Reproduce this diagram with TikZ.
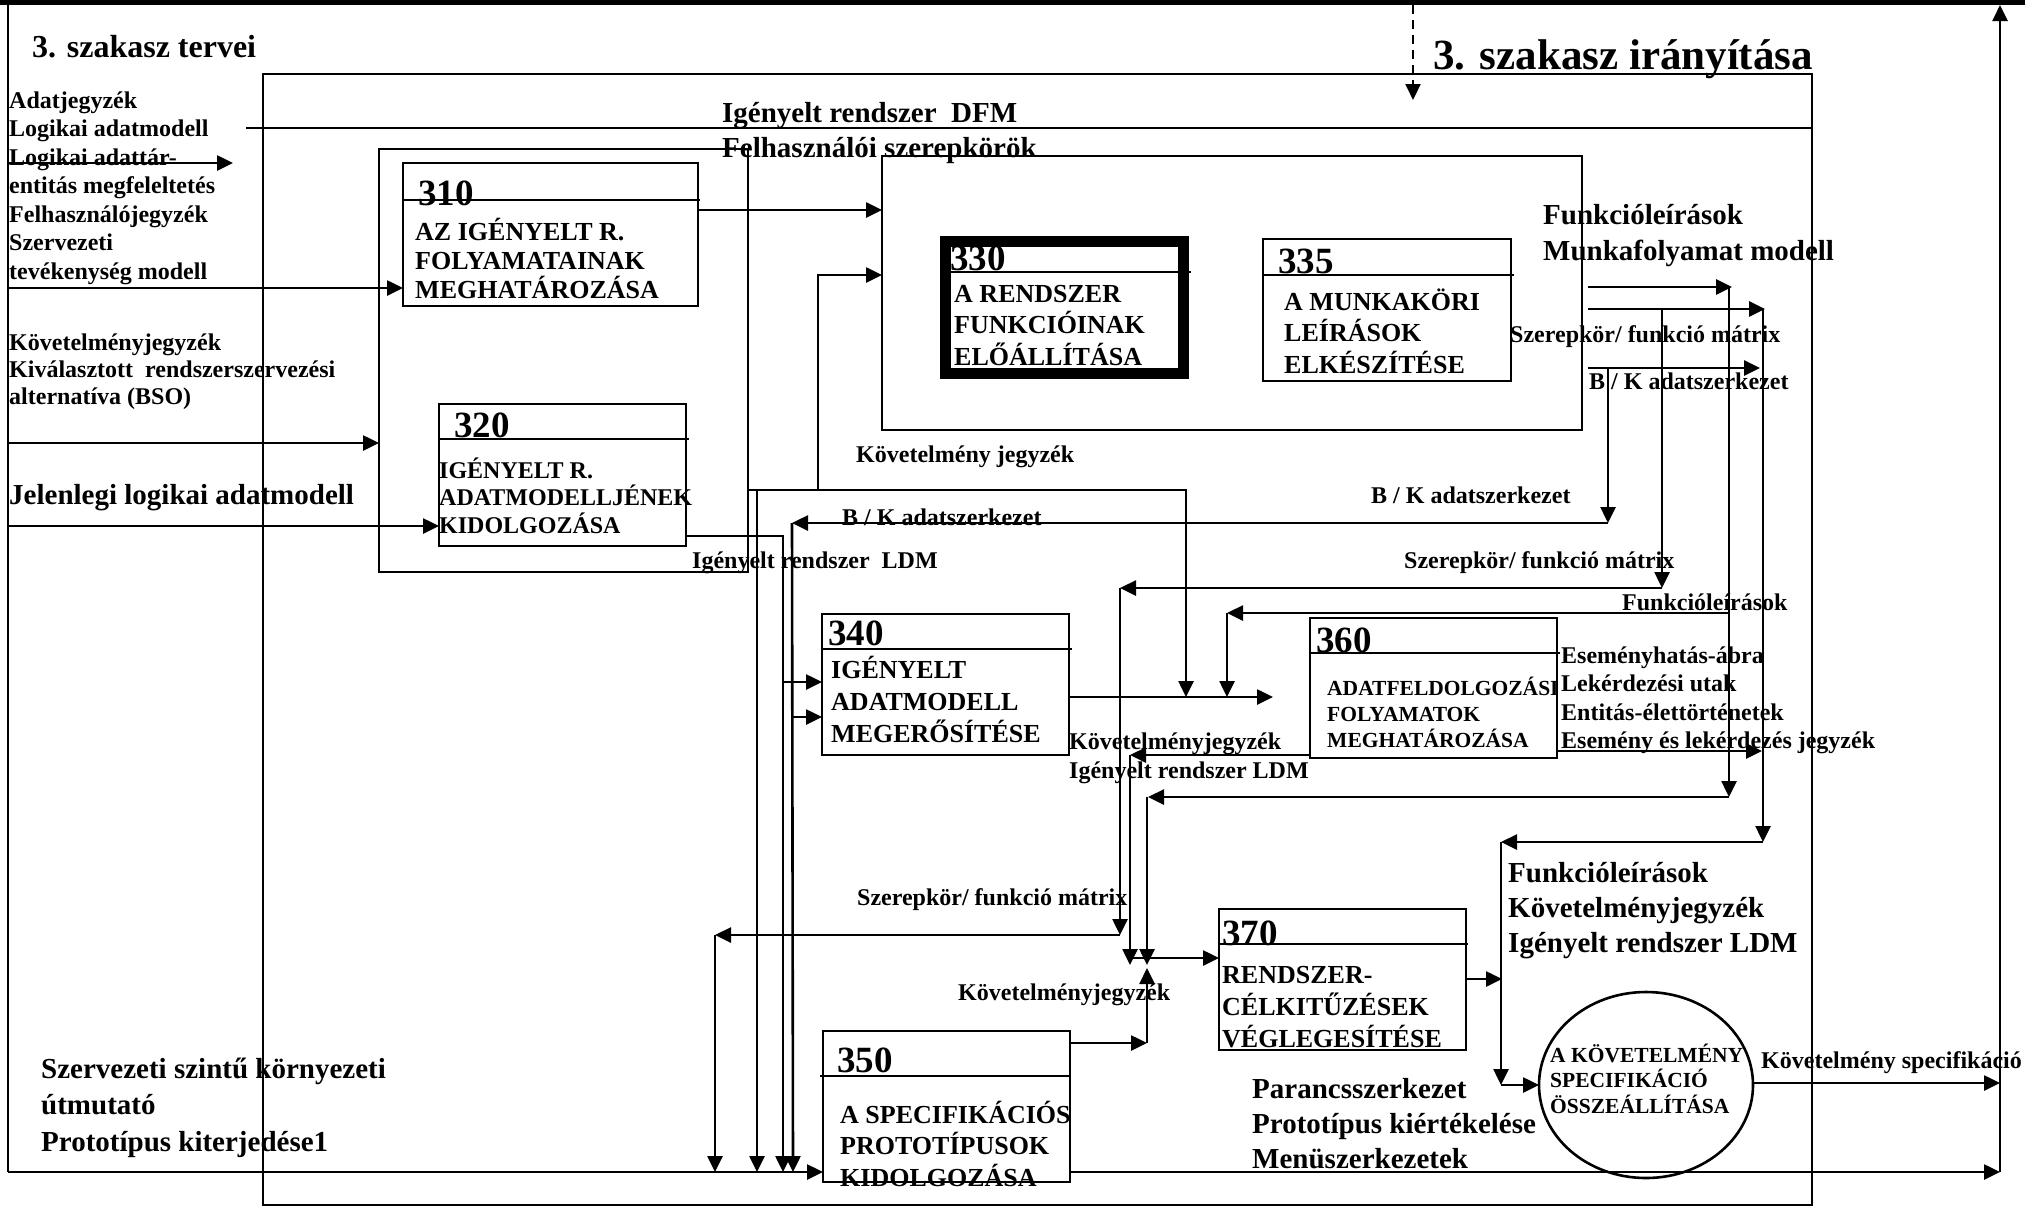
\documentclass[tikz,border=0pt]{standalone}
\usepackage{fontspec}
\setmainfont{Liberation Serif}
\usetikzlibrary{arrows.meta,shapes.geometric}
\newcommand{\mlin}[2]{\vtop{\baselineskip=#1pt\lineskiplimit=-100pt\lineskip=0pt\relax#2}}
\begin{document}
\begin{tikzpicture}[x=1pt,y=-1pt,
  ln/.style={line width=2.6pt},
  arr/.style={line width=2.6pt,-{Triangle[length=16pt,width=15pt]}},
  box/.style={draw,line width=2.6pt,rectangle,inner sep=0pt,outer sep=0pt,anchor=north west},
  t24/.style={inner sep=0pt,anchor=base west,font=\fontsize{24}{28}\selectfont\bfseries},
  t21/.style={inner sep=0pt,anchor=base west,font=\fontsize{21.5}{26}\selectfont\bfseries},
  t26/.style={inner sep=0pt,anchor=base west,font=\fontsize{26}{30}\selectfont\bfseries},
  t29/.style={inner sep=0pt,anchor=base west,font=\fontsize{29}{34}\selectfont\bfseries},
  t32/.style={inner sep=0pt,anchor=base west,font=\fontsize{32}{38}\selectfont\bfseries},
  t43/.style={inner sep=0pt,anchor=base west,font=\fontsize{43}{50}\selectfont\bfseries},
  num/.style={inner sep=0pt,anchor=base west,font=\fontsize{37}{42}\selectfont\bfseries}]
\useasboundingbox (0,0) rectangle (2025,1211);
\fill[white] (0,0) rectangle (2025,1211);

% ---------- frames ----------
\coordinate (top0) at (0,2.5);
\coordinate (top1) at (2025,2.5);
\draw[line width=5pt] (top0) -- (top1);
\coordinate (lb0) at (8,0);
\coordinate (lb1) at (8,1172);
\draw[ln] (lb0) -- (lb1);
\node[box,minimum width=1549pt,minimum height=1131pt] (frame) at (263,74) {};
\node[box,minimum width=369pt,minimum height=423pt] (grp) at (379,149) {};
\node[box,minimum width=700pt,minimum height=274pt] (cont) at (882,156) {};

% ---------- process boxes ----------
\node[box,minimum width=295pt,minimum height=143pt] (b310) at (403,163) {};
\draw[ln] (b310.north west) ++(0,37) -- ++(297,0);
\node[box,minimum width=247pt,minimum height=142pt] (b320) at (439,404) {};
\draw[ln] (b320.north west) ++(0,35) -- ++(250,0);
\node[box,line width=11pt,minimum width=238pt,minimum height=132pt] (b330) at (945.5,241) {};
\draw[ln] (b330.north west) ++(5.5,31) -- ++(240,0);
\node[box,minimum width=248pt,minimum height=142pt] (b335) at (1263,239) {};
\draw[ln] (b335.north west) ++(0,36) -- ++(251,0);
\node[box,minimum width=247pt,minimum height=141pt] (b340) at (822,614) {};
\draw[ln] (b340.north west) ++(0,35) -- ++(250,0);
\node[box,minimum width=247pt,minimum height=151pt] (b350) at (823,1031) {};
\draw[ln] (b350.north west) ++(-3,45) -- ++(250,0);
\node[box,minimum width=247pt,minimum height=140pt] (b360) at (1310,618) {};
\draw[ln] (b360.north west) ++(0,35) -- ++(250,0);
\node[box,minimum width=247pt,minimum height=141pt] (b370) at (1219,909) {};
\draw[ln] (b370.north west) ++(0,35) -- ++(249,0);
\node[draw,ellipse,line width=2.6pt,minimum width=214pt,minimum height=186pt,inner sep=0pt] (ell) at (1646,1085) {};

% ---------- box texts ----------
\node[num] (n310) at (418,205) {310};
\node[t26] (x310) at (415,240) {\mlin{29}{\hbox{AZ IGÉNYELT R.}\hbox{FOLYAMATAINAK}\hbox{MEGHATÁROZÁSA}}};
\node[num] (n320) at (454,437) {320};
\node[t24] (x320) at (439,478) {\mlin{27.5}{\hbox{IGÉNYELT R.}\hbox{ADATMODELLJÉNEK}\hbox{KIDOLGOZÁSA}}};
\node[num] (n330) at (950,270) {330};
\node[t26] (x330) at (954,302) {\mlin{31.5}{\hbox{A RENDSZER}\hbox{FUNKCIÓINAK}\hbox{ELŐÁLLÍTÁSA}}};
\node[num] (n335) at (1278,273) {335};
\node[t26] (x335) at (1284,310) {\mlin{31.5}{\hbox{A MUNKAKÖRI}\hbox{LEÍRÁSOK}\hbox{ELKÉSZÍTÉSE}}};
\node[num] (n340) at (828,645) {340};
\node[t26] (x340) at (831,678) {\mlin{32}{\hbox{IGÉNYELT}\hbox{ADATMODELL}\hbox{MEGERŐSÍTÉSE}}};
\node[num] (n350) at (837,1072) {350};
\node[t26] (x350) at (840,1123) {\mlin{31.5}{\hbox{A SPECIFIKÁCIÓS}\hbox{PROTOTÍPUSOK}\hbox{KIDOLGOZÁSA}}};
\node[num] (n360) at (1316,652) {360};
\node[t21] (x360) at (1327,695) {\mlin{26}{\hbox{ADATFELDOLGOZÁSI}\hbox{FOLYAMATOK}\hbox{MEGHATÁROZÁSA}}};
\node[num] (n370) at (1222,945) {370};
\node[t26] (x370) at (1222,983) {\mlin{32}{\hbox{RENDSZER-}\hbox{CÉLKITŰZÉSEK}\hbox{VÉGLEGESÍTÉSE}}};
\node[t21] (xell) at (1550,1062) {\mlin{25.5}{\hbox{A KÖVETELMÉNY}\hbox{SPECIFIKÁCIÓ}\hbox{ÖSSZEÁLLÍTÁSA}}};

% ---------- free labels ----------
\node[t32] (hdl) at (32,57) {3. szakasz tervei};
\node[t43] (hdr) at (1433,69) {3. szakasz irányítása};
\node[t24] (inl1) at (9,108) {\mlin{28.5}{\hbox{Adatjegyzék}\hbox{Logikai adatmodell}\hbox{Logikai adattár-}\hbox{entitás megfeleltetés}\hbox{Felhasználójegyzék}\hbox{Szervezeti}\hbox{tevékenység modell}}};
\node[t24] (inl2) at (9,350) {\mlin{27}{\hbox{Követelményjegyzék}\hbox{Kiválasztott\enspace rendszerszervezési}\hbox{alternatíva (BSO)}}};
\node[t29] (inl3) at (9,504) {Jelenlegi logikai adatmodell};
\node[t29] (inl4) at (41,1078) {\mlin{36.5}{\hbox{Szervezeti szintű környezeti}\hbox{útmutató}\hbox{Prototípus kiterjedése1}}};
\node[t29] (ldfm) at (722,122) {Igényelt rendszer\enspace DFM};
\node[t29] (lfel) at (722,157) {Felhasználói szerepkörök};
\node[t29] (lfm) at (1543,224) {\mlin{36}{\hbox{Funkcióleírások}\hbox{Munkafolyamat modell}}};
\node[t24] (lsz1) at (1510,342) {Szerepkör/ funkció mátrix};
\node[t24] (lbk1) at (1589,389) {B / K adatszerkezet};
\node[t24] (lkj1) at (856,462) {Követelmény jegyzék};
\node[t24] (lbk2) at (1371,503) {B / K adatszerkezet};
\node[t24] (lbk3) at (842,525) {B / K adatszerkezet};
\node[t24] (lldm) at (692,568) {Igényelt rendszer\enspace LDM};
\node[t24] (lsz2) at (1404,568) {Szerepkör/ funkció mátrix};
\node[t24] (lfl2) at (1622,610) {Funkcióleírások};
\node[t24] (lesm) at (1561,663) {\mlin{28.5}{\hbox{Eseményhatás-ábra}\hbox{Lekérdezési utak}\hbox{Entitás-élettörténetek}\hbox{Esemény és lekérdezés jegyzék}}};
\node[t24] (lkj2) at (1069,749) {\mlin{29}{\hbox{Követelményjegyzék}\hbox{Igényelt rendszer LDM}}};
\node[t29] (lfkl) at (1508,882) {\mlin{35}{\hbox{Funkcióleírások}\hbox{Követelményjegyzék}\hbox{Igényelt rendszer LDM}}};
\node[t24] (lsz3) at (857,905) {Szerepkör/ funkció mátrix};
\node[t24] (lkj3) at (958,1000) {Követelményjegyzék};
\node[t29] (lpar) at (1252,1098) {\mlin{35}{\hbox{Parancsszerkezet}\hbox{Prototípus kiértékelése}\hbox{Menüszerkezetek}}};
\node[t24] (lksp) at (1761,1068) {Követelmény specifikáció};

% ---------- coordinates ----------
\coordinate (i1a) at (8,163);   \coordinate (i1b) at (233,163);
\coordinate (i2a) at (8,288);   \coordinate (i2b) at (403,288);
\coordinate (i3a) at (8,443);   \coordinate (i3b) at (379,443);
\coordinate (i4a) at (8,526);   \coordinate (i4b) at (439,526);
\coordinate (i5a) at (8,1172);  \coordinate (i5b) at (823,1172);
\coordinate (dfma) at (246,128); \coordinate (dfmb) at (1812,128);
\coordinate (c1a) at (698,210); \coordinate (c1b) at (882,210);
\coordinate (k0) at (748,490); \coordinate (k1) at (757,490); \coordinate (k2) at (818,490);
\coordinate (k3) at (1186,490); \coordinate (k4) at (1186,697); \coordinate (k5) at (818,275);
\coordinate (k6) at (882,275); \coordinate (k7) at (757,1172);
\coordinate (l0) at (686,536); \coordinate (l1) at (783,536); \coordinate (l2) at (783,1172);
\coordinate (l3) at (783,682); \coordinate (l4) at (822,682);
\coordinate (bk0) at (1588,368); \coordinate (bk1) at (1608,368); \coordinate (bk2) at (1760,368);
\coordinate (bk3) at (1608,523); \coordinate (bk4) at (792,523); \coordinate (bk5) at (793,1172);
\coordinate (bk6) at (793,717); \coordinate (bk7) at (822,717);
\coordinate (f0) at (1588,287); \coordinate (f1) at (1729,287); \coordinate (f2) at (1732,287);
\coordinate (f3) at (1729,613); \coordinate (f4) at (1227,613); \coordinate (f5) at (1227,697);
\coordinate (f6) at (1729,797); \coordinate (f7) at (1148,797); \coordinate (f8) at (1147,965);
\coordinate (f9) at (1147,797);
\coordinate (s0) at (1588,309); \coordinate (s1) at (1662,309); \coordinate (s2) at (1765,309);
\coordinate (s3) at (1662,588); \coordinate (s4) at (1120,588); \coordinate (s5) at (1120,935);
\coordinate (s6) at (715,935); \coordinate (s7) at (715,1172); \coordinate (s8) at (1763,309);
\coordinate (s9) at (1763,842); \coordinate (s10) at (1501,842); \coordinate (s11) at (1501,1085);
\coordinate (s12) at (1539,1085);
\coordinate (o340a) at (1069,697); \coordinate (o340b) at (1273,697);
\coordinate (o360a) at (1310,755); \coordinate (o360b) at (1130,755); \coordinate (o360c) at (1130,965);
\coordinate (e0) at (1557,751); \coordinate (e1) at (1762,751);
\coordinate (p0) at (1070,1043); \coordinate (p1) at (1147,1043); \coordinate (p2) at (1147,968);
\coordinate (p3) at (1130,958); \coordinate (p4) at (1219,958);
\coordinate (q0) at (1070,1172); \coordinate (q1) at (2000,1172); \coordinate (q2) at (2000,5);
\coordinate (r0) at (1466,979); \coordinate (r1) at (1502,979);
\coordinate (x0) at (1753,1083); \coordinate (x1) at (2000,1083);
\coordinate (d0) at (1413,5); \coordinate (d1) at (1413,100);

% ---------- connectors ----------
\draw[arr] (i1a) -- (i1b);
\draw[arr] (i2a) -- (i2b);
\draw[arr] (i3a) -- (i3b);
\draw[arr] (i4a) -- (i4b);
\draw[arr] (i5a) -- (i5b);
\draw[ln] (dfma) -- (dfmb);
\draw[arr] (c1a) -- (c1b);
% Kovetelmeny jegyzek
\draw[arr] (k0) -- (k3) -- (k4);
\draw[arr] (k2) -- (k5) -- (k6);
\draw[arr] (k1) -- (k7);
% Igenyelt rendszer LDM
\draw[arr] (l0) -- (l1) -- (l2);
\draw[arr] (l3) -- (l4);
% B/K
\draw[arr] (bk0) -- (bk2);
\draw[arr] (bk1) -- (bk3);
\draw[arr] (bk3) -- (bk4);
\draw[arr] (bk4) -- (bk5);
\draw[arr] (bk6) -- (bk7);
% Funkcioleirasok
\draw[arr] (f0) -- (f2);
\draw[arr] (f1) -- (f6);
\draw[arr] (f3) -- (f4);
\draw[arr] (f4) -- (f5);
\draw[arr] (f6) -- (f7);
\draw[arr] (f9) -- (f8);
% Szerepkor / funkcio matrix
\draw[arr] (s0) -- (s2);
\draw[arr] (s1) -- (s3);
\draw[arr] (s3) -- (s4);
\draw[arr] (s4) -- (s5);
\draw[arr] (s5) -- (s6);
\draw[arr] (s6) -- (s7);
\draw[arr] (s8) -- (s9);
\draw[arr] (s9) -- (s10);
\draw[arr] (s10) -- (s11);
\draw[arr] (s11) -- (s12);
% outputs
\draw[arr] (o340a) -- (o340b);
\draw[arr] (o360a) -- (o360b);
\draw[arr] (o360b) -- (o360c);
\draw[arr] (e0) -- (e1);
\draw[arr] (p0) -- (p1);
\draw[arr] (p1) -- (p2);
\draw[arr] (p3) -- (p4);
\draw[arr] (q0) -- (q1);
\draw[arr] (q1) -- (q2);
\draw[arr] (r0) -- (r1);
\draw[arr] (x0) -- (x1);
\draw[line width=2pt,dash pattern=on 9pt off 6pt,-{Triangle[length=16pt,width=15pt]}] (d0) -- (d1);
\end{tikzpicture}
\end{document}
